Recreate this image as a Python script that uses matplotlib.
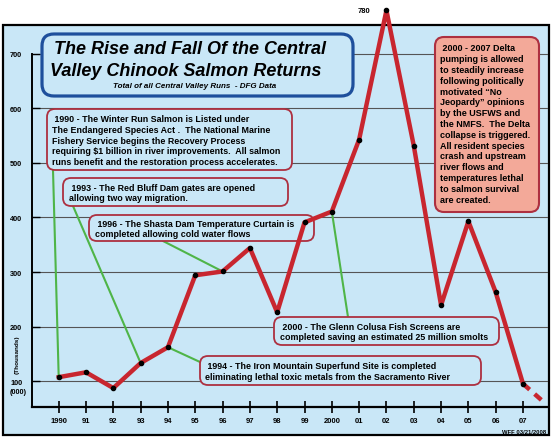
import matplotlib
matplotlib.use("Agg")
from matplotlib import pyplot as plt
from matplotlib.patches import FancyBboxPatch, Rectangle
from matplotlib.transforms import Affine2D

# chinook returns, thousands of fish
years = [1990, 1991, 1992, 1993, 1994, 1995, 1996, 1997, 1998, 1999,
         2000, 2001, 2002, 2003, 2004, 2005, 2006, 2007]
returns = [107, 116, 87, 133, 162, 294, 301, 344, 226, 391,
           411, 543, 780, 532, 239, 393, 263, 95]
trendYears = [2007, 2007.7]
trendReturns = [95, 64]

yTicks = [100, 200, 300, 400, 500, 600, 700]
xTickLabels = ["1990", "91", "92", "93", "94", "95", "96", "97", "98", "99",
               "2000", "01", "02", "03", "04", "05", "06", "07"]

eventYears = [1990, 1993, 1996, 1994, 2000]
eventTexts = [
    " 1990 - The Winter Run Salmon is Listed under\n"
    "The Endangered Species Act .  The National Marine\n"
    "Fishery Service begins the Recovery Process\n"
    "requiring $1 billion in river improvements.  All salmon\n"
    "runs benefit and the restoration process accelerates.",
    " 1993 - The Red Bluff Dam gates are opened\nallowing two way migration.",
    " 1996 - The Shasta Dam Temperature Curtain is\ncompleted allowing cold water flows",
    " 1994 - The Iron Mountain Superfund Site is completed\n"
    "eliminating lethal toxic metals from the Sacramento River",
    " 2000 - The Glenn Colusa Fish Screens are\ncompleted saving an estimated 25 million smolts",
]
deltaText = (" 2000 - 2007 Delta\npumping is allowed\nto steadily increase\n"
             "following politically\nmotivated \u201cNo\nJeopardy\u201d opinions\n"
             "by the USFWS and\nthe NMFS.  The Delta\ncollapse is triggered.\n"
             "All resident species\ncrash and upstream\nriver flows and\n"
             "temperatures lethal\nto salmon survival\nare created.")

# layout in pixels (x0, y0, x1, y1), y measured from the top
eventBoxes = [(47, 110, 292, 171), (63, 179, 288, 207), (89, 216, 314, 242),
              (200, 357, 481, 386), (274, 318, 499, 346)]
eventTextX = [52, 69, 95, 205, 280]
eventAnchors = [(53, 171), (73, 207), (163, 242), (200, 363), (348, 318)]

bg = "#c9e7f7"
red = "#c8262f"
boxRed = "#ad3040"
green = "#4fb548"

plt.rcParams["font.family"] = ["Liberation Sans", "DejaVu Sans"]
plt.rcParams["font.weight"] = "bold"

fig = plt.figure(figsize=(5.53, 4.39), dpi=100)
px = Affine2D().scale(0.01, -0.01).translate(0, 4.39) + fig.dpi_scale_trans

ax = fig.add_axes([32 / 553, 31 / 439, 516 / 553, 382 / 439])
ax.set_xlim(1989.022, 2007.916)
ax.set_ylim(52.3, 753.2)
ax.patch.set_visible(False)

ax.add_patch(Rectangle((3, 26), 546, 410, transform=px, facecolor=bg,
                       edgecolor="black", lw=1.6, zorder=0, clip_on=False))

for s in ["top", "right"]:
    ax.spines[s].set_visible(False)
ax.spines["left"].set_linewidth(1.4)
ax.spines["bottom"].set_linewidth(1.6)
ax.spines["left"].set_bounds(52.3, 700)

ax.set_yticks(yTicks)
ax.set_xticks(years, xTickLabels)
ax.tick_params(axis="y", direction="in", length=6, width=1, pad=7, labelsize=5.3)
ax.tick_params(axis="x", direction="inout", length=8, width=1.2, pad=3, labelsize=5.5)
ax.grid(axis="y", color="#555555", lw=0.8)
ax.set_axisbelow(True)

ax.plot(years, returns, color=red, lw=3.2, zorder=3, clip_on=False)
ax.plot(trendYears, trendReturns, color=red, lw=3.2, ls=(0, (2, 1.5)), zorder=3)
ax.plot(years, returns, "o", ms=3, color="black", zorder=4, clip_on=False)
ax.annotate("780", xy=(2002, 780), xytext=(-16, 0), textcoords="offset points",
            ha="center", va="center", fontsize=5.5, annotation_clip=False)

# connectors from the notes to the years
for yr, anchor in zip(eventYears, eventAnchors):
    ax.annotate("", xy=(yr, returns[years.index(yr)]), xycoords="data",
                xytext=anchor, textcoords=px, annotation_clip=False,
                arrowprops=dict(arrowstyle="-", color=green, lw=1.5,
                                shrinkA=0, shrinkB=0), zorder=1.5)

for (x0, y0, x1, y1), tx, txt in zip(eventBoxes, eventTextX, eventTexts):
    ax.add_patch(FancyBboxPatch((x0, y0), x1 - x0, y1 - y0,
                                boxstyle="round,pad=0,rounding_size=8",
                                transform=px, facecolor=bg, edgecolor=boxRed,
                                lw=1.3, zorder=2, clip_on=False))
    ax.text(tx, (y0 + y1) / 2 + 0.5, txt, transform=px, ha="left", va="center",
            fontsize=6.4, linespacing=1.25, zorder=5)

# title box
ax.add_patch(FancyBboxPatch((42, 35), 311, 62, boxstyle="round,pad=0,rounding_size=12",
                            transform=px, facecolor=bg, edgecolor="#1e4f9c",
                            lw=2.3, zorder=2, clip_on=False))
ax.text(190, 49, "The Rise and Fall Of the Central", transform=px, ha="center",
        va="center", fontsize=13, style="italic", zorder=5)
ax.text(186, 71, "Valley Chinook Salmon Returns", transform=px, ha="center",
        va="center", fontsize=13, style="italic", zorder=5)
ax.text(195, 86, "Total of all Central Valley Runs  - DFG Data", transform=px,
        ha="center", va="center", fontsize=5.8, style="italic", zorder=5)

# delta pumping box
ax.add_patch(FancyBboxPatch((435, 38), 104, 175, boxstyle="round,pad=0,rounding_size=9",
                            transform=px, facecolor="#f3a999", edgecolor=boxRed,
                            lw=1.5, zorder=2, clip_on=False))
ax.text(440, 124.5, deltaText, transform=px, ha="left", va="center",
        fontsize=6.5, linespacing=1.26, zorder=5)

ax.text(17, 355, "(Thousands)", transform=px, rotation=90, ha="center",
        va="center", fontsize=4.6)
ax.text(18.5, 392, "(000)", transform=px, ha="center", va="center", fontsize=5.3)
ax.text(546, 432, "WFF 03/21/2008", transform=px, ha="right", va="center", fontsize=4.2)

fig.savefig("out.png", dpi=100)
